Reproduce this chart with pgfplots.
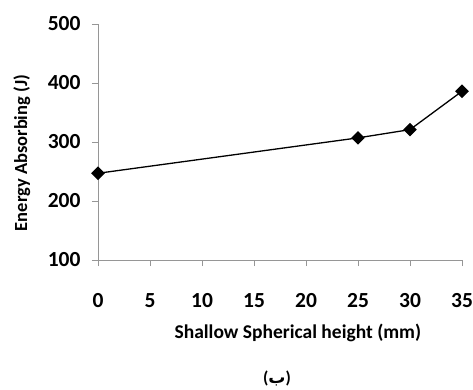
\documentclass[border=0pt]{standalone}
\usepackage{fontspec}
\setmainfont{Carlito}
\newfontfamily\arabicfont[Script=Arabic]{DejaVu Sans}
\TeXXeTstate=1
\usepackage{pgfplots}
\pgfplotsset{compat=1.18}
\definecolor{axgray}{RGB}{150,150,150}
\begin{document}
\begin{tikzpicture}
\begin{axis}[
  scale only axis,
  width=364pt, height=236pt,
  at={(0,0)}, anchor=south west,
  xmin=0, xmax=35, ymin=100, ymax=500,
  xtick={0,5,...,35}, ytick={100,200,...,500},
  axis lines*=left,
  axis line style={axgray, line width=0.8pt},
  tick style={axgray, line width=0.8pt},
  tick align=outside,
  major tick length=6pt,
  /pgf/number format/assume math mode=true,
  ticklabel style={font=\bfseries\fontsize{21.5}{24}\selectfont, text=black},
  xticklabel style={anchor=center, yshift=-35pt},
  yticklabel style={anchor=east, xshift=-8pt},
  xlabel={Shallow Spherical height (mm)},
  ylabel={Energy Absorbing (J)},
  xlabel style={font=\bfseries\fontsize{19.5}{22}\selectfont, at={(axis description cs:0.549,0)}, anchor=center, yshift=-73pt},
  ylabel style={font=\bfseries\fontsize{18.5}{22}\selectfont, at={(axis description cs:-0.209,0.453)}, anchor=center},
  clip=false,
]
\addplot[black, line width=1.3pt, mark=square*, mark size=4.2pt, mark options={fill=black, rotate=45}]
  coordinates {(0,247) (25,307) (30,321) (35,386)};
\end{axis}
\node[font=\bfseries\fontsize{17}{20}\selectfont] at (179pt,-118pt) {(\hbox{\arabicfont\beginR ب\endR})};
\pgfresetboundingbox
\path (-98pt,-129pt) rectangle (375pt,260pt);
\end{tikzpicture}
\end{document}
